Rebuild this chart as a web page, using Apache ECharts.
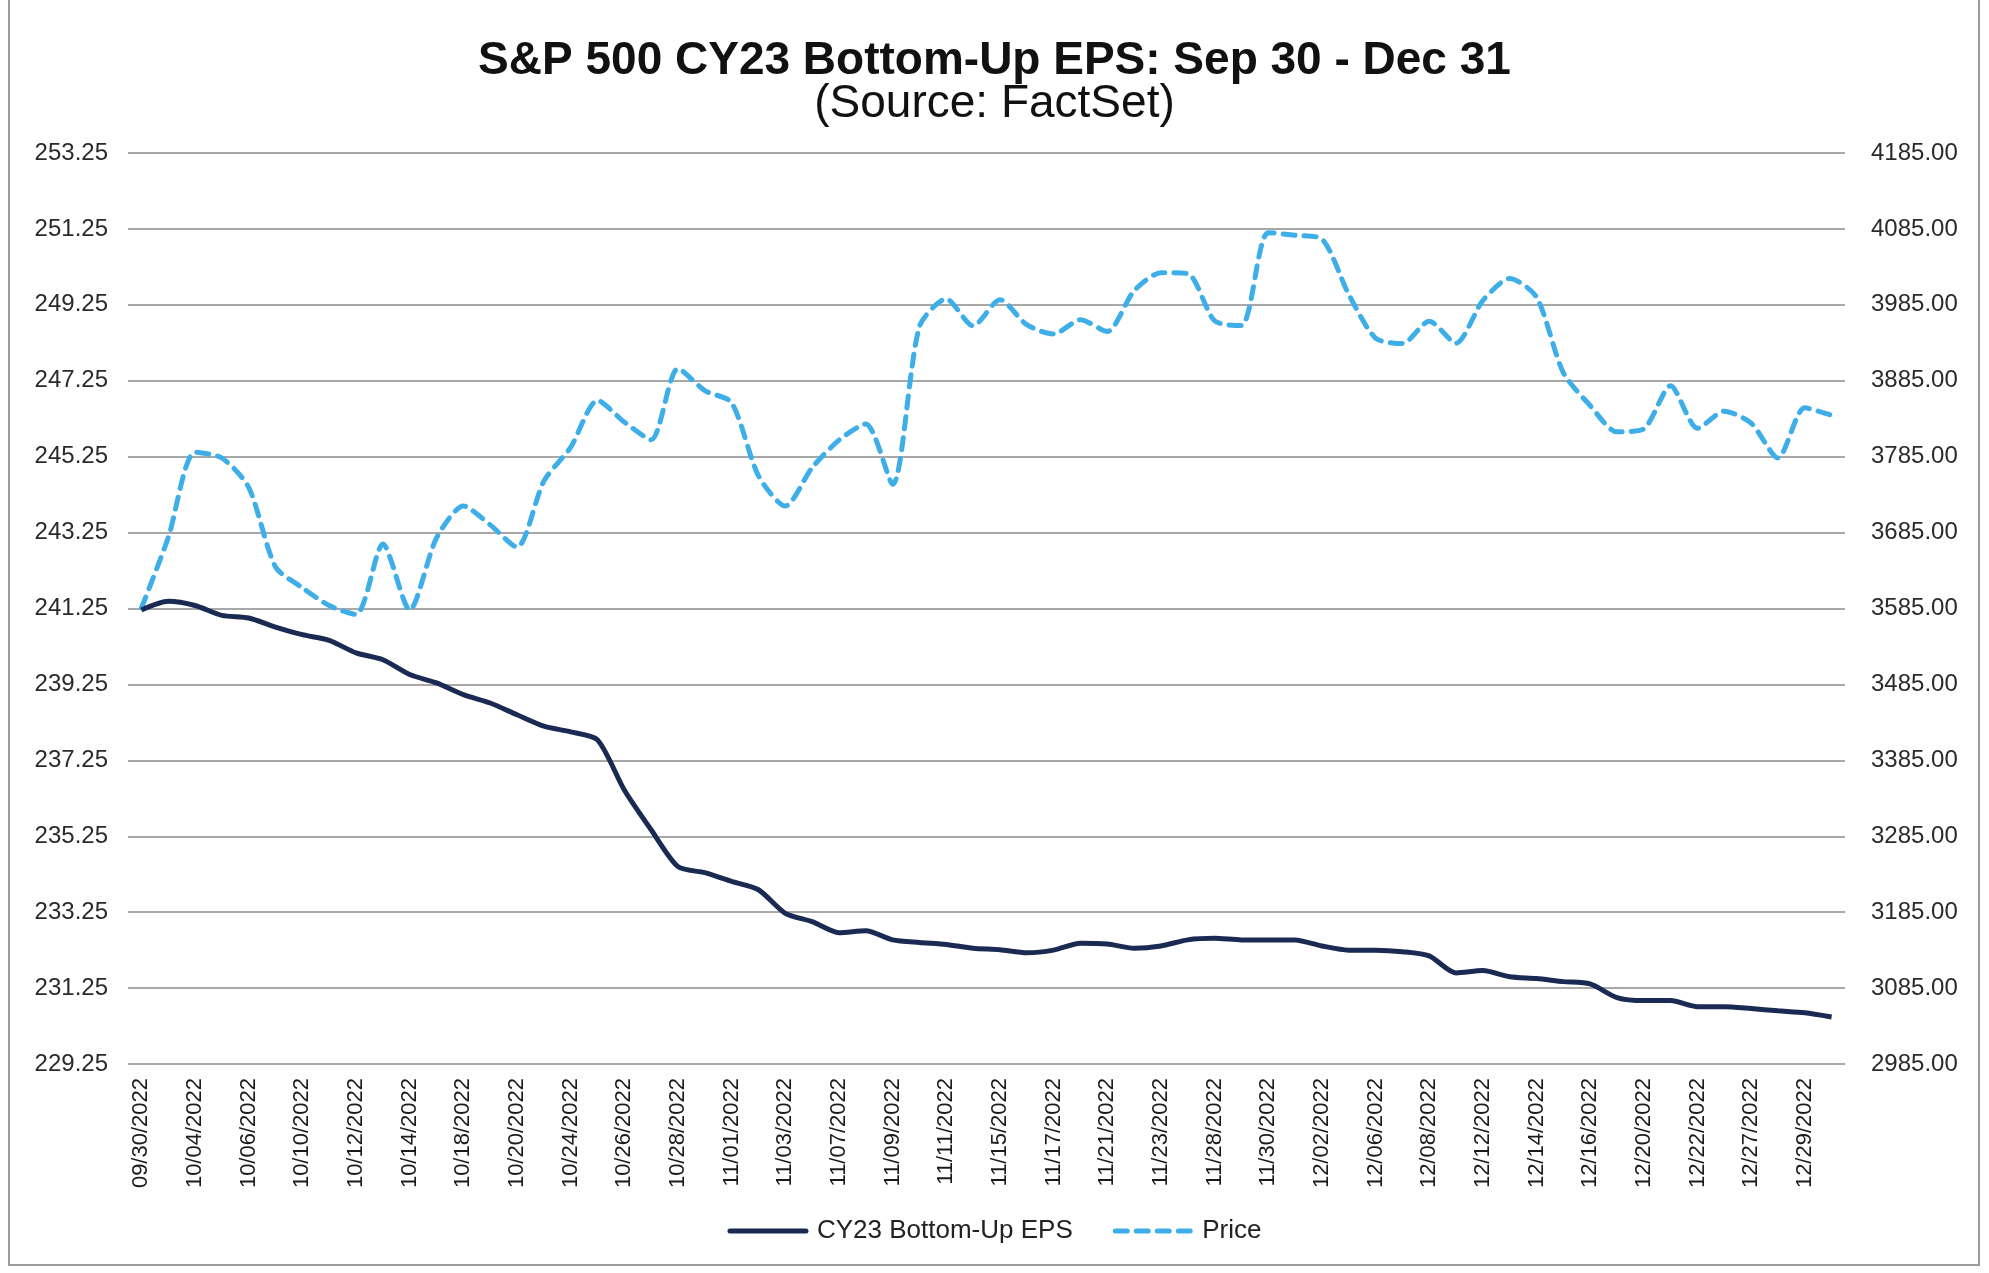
<!DOCTYPE html>
<html>
<head>
<meta charset="utf-8">
<script src="https://cdn.jsdelivr.net/npm/echarts@6/dist/echarts.min.js"></script>
<style>
  html, body { margin: 0; padding: 0; background: #ffffff; }
  #chart { width: 1989px; height: 1273px; }
</style>
</head>
<body>
<div id="chart"></div>
<script>
const dates = ['09/30/2022','10/03/2022','10/04/2022','10/05/2022','10/06/2022','10/07/2022','10/10/2022','10/11/2022','10/12/2022','10/13/2022',
  '10/14/2022','10/17/2022','10/18/2022','10/19/2022','10/20/2022','10/21/2022','10/24/2022','10/25/2022','10/26/2022','10/27/2022',
  '10/28/2022','10/31/2022','11/01/2022','11/02/2022','11/03/2022','11/04/2022','11/07/2022','11/08/2022','11/09/2022','11/10/2022',
  '11/11/2022','11/14/2022','11/15/2022','11/16/2022','11/17/2022','11/18/2022','11/21/2022','11/22/2022','11/23/2022','11/25/2022',
  '11/28/2022','11/29/2022','11/30/2022','12/01/2022','12/02/2022','12/05/2022','12/06/2022','12/07/2022','12/08/2022','12/09/2022',
  '12/12/2022','12/13/2022','12/14/2022','12/15/2022','12/16/2022','12/19/2022','12/20/2022','12/21/2022','12/22/2022','12/23/2022',
  '12/27/2022','12/28/2022','12/29/2022','12/30/2022'];

const epsValues = [241.21,241.44,241.33,241.07,241.00,240.76,240.56,240.41,240.08,239.90,
  239.51,239.29,238.98,238.76,238.45,238.15,238.00,237.79,236.47,235.42,
  234.45,234.29,234.06,233.84,233.22,233.00,232.71,232.76,232.52,232.45,
  232.40,232.30,232.26,232.18,232.25,232.43,232.41,232.30,232.36,232.52,
  232.56,232.52,232.52,232.52,232.36,232.25,232.25,232.21,232.10,231.65,
  231.71,231.55,231.50,231.42,231.36,231.00,230.92,230.92,230.76,230.76,
  230.71,230.65,230.60,230.49];

const priceValues = [3585.62,3678.43,3790.93,3783.28,3744.52,3639.66,3612.39,3588.84,3577.03,3669.91,
  3583.07,3677.95,3719.98,3695.16,3665.78,3752.75,3797.34,3859.11,3830.60,3807.30,
  3901.06,3871.98,3856.10,3759.69,3719.89,3770.55,3806.80,3828.11,3748.57,3956.37,
  3992.93,3957.25,3991.73,3958.79,3946.56,3965.34,3949.94,4003.58,4027.26,4026.12,
  3963.94,3957.63,4080.11,4076.57,4071.70,3998.84,3941.26,3933.92,3963.51,3934.38,
  3990.56,4019.65,3995.32,3895.75,3852.36,3817.66,3821.62,3878.44,3822.39,3844.82,
  3829.25,3783.22,3849.28,3839.50];

const titleText = 'S&P 500 CY23 Bottom-Up EPS: Sep 30 - Dec 31';
const subtitleText = '(Source: FactSet)';
const seriesNames = ['CY23 Bottom-Up EPS', 'Price'];
const leftAxisRange = [229.25, 253.25, 2];
const rightAxisRange = [2985, 4185, 100];

const FONT = "'Liberation Sans', Arial, Helvetica, sans-serif";
const chart = echarts.init(document.getElementById('chart'));

chart.setOption({
  animation: false,
  backgroundColor: '#ffffff',
  graphic: [{
    type: 'rect',
    shape: { x: 9, y: -4, width: 1970, height: 1269 },
    style: { fill: 'none', stroke: '#9c9c9c', lineWidth: 2 },
    silent: true
  }],
  title: [{
    text: titleText,
    left: 'center',
    top: 33,
    textStyle: { fontFamily: FONT, fontSize: 46, fontWeight: 'bold', color: '#111111' }
  }, {
    text: subtitleText,
    left: 'center',
    top: 76,
    textStyle: { fontFamily: FONT, fontSize: 46, fontWeight: 'normal', color: '#111111' }
  }],
  legend: {
    data: seriesNames,
    left: 'center',
    top: 1213,
    itemWidth: 76,
    itemHeight: 16,
    itemGap: 40,
    itemStyle: { opacity: 0, borderWidth: 0 },
    lineStyle: { width: 5, cap: 'round' },
    textStyle: { fontFamily: FONT, fontSize: 26, color: '#222222', padding: [0, 0, 0, 6] }
  },
  grid: { left: 128, right: 144, top: 153, bottom: 209, containLabel: false },
  xAxis: {
    type: 'category',
    data: dates,
    boundaryGap: true,
    axisLine: { show: false },
    axisTick: { show: false },
    axisLabel: {
      interval: 1,
      rotate: 90,
      margin: 14,
      fontFamily: FONT,
      fontSize: 22,
      color: '#1a1a1a'
    },
    splitLine: { show: false }
  },
  yAxis: [{
    type: 'value',
    min: leftAxisRange[0],
    max: leftAxisRange[1],
    interval: leftAxisRange[2],
    axisLine: { show: false },
    axisTick: { show: false },
    axisLabel: {
      margin: 20,
      fontFamily: FONT,
      fontSize: 24,
      color: '#2a2a2a',
      formatter: v => v.toFixed(2)
    },
    splitLine: { show: true, lineStyle: { color: '#a8a8a8', width: 2 } }
  }, {
    type: 'value',
    position: 'right',
    min: rightAxisRange[0],
    max: rightAxisRange[1],
    interval: rightAxisRange[2],
    axisLine: { show: false },
    axisTick: { show: false },
    axisLabel: {
      margin: 26,
      fontFamily: FONT,
      fontSize: 24,
      color: '#2a2a2a',
      formatter: v => v.toFixed(2)
    },
    splitLine: { show: false }
  }],
  series: [{
    name: seriesNames[0],
    type: 'line',
    yAxisIndex: 0,
    data: epsValues,
    symbol: 'none',
    smooth: 0.25,
    z: 3,
    itemStyle: { color: '#1b2a52' },
    lineStyle: { color: '#1b2a52', width: 5 }
  }, {
    name: seriesNames[1],
    type: 'line',
    yAxisIndex: 1,
    data: priceValues,
    symbol: 'none',
    smooth: 0.25,
    z: 2,
    itemStyle: { color: '#3eaee9' },
    lineStyle: { color: '#3eaee9', width: 5, type: [12, 9], cap: 'round' }
  }]
});
</script>
</body>
</html>
